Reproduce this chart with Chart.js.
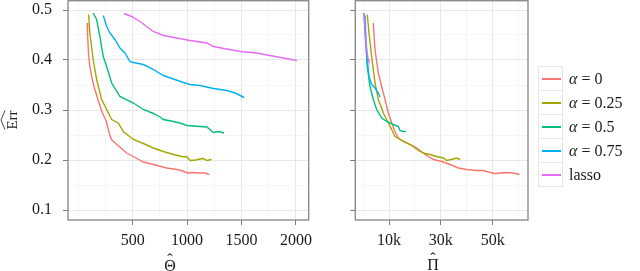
<!DOCTYPE html>
<html>
<head>
<meta charset="utf-8">
<script src="https://cdn.jsdelivr.net/npm/chart.js"></script>
<style>
  body { margin: 0; background: #fff; }
  #wrap { position: relative; width: 640px; height: 271px; overflow: hidden; background: #fff;
          font-family: "Liberation Serif", serif; color: #1a1a1a; }
  canvas { position: absolute; top: 0; }
  .xt { position: absolute; width: 40px; text-align: center; font-size: 16px; line-height: 16px; }
  .xt .hat { position: absolute; left: 0; width: 40px; top: -6px; text-align: center; }
  .key { position: absolute; left: 538px; width: 25px; height: 25px; box-sizing: border-box;
         border: 1px solid #e6e6e6; background: #fff; }
  .key span { position: absolute; left: 3px; top: 11px; width: 19px; height: 1.5px; }
  .lab { position: absolute; left: 569px; font-size: 16px; line-height: 24px; white-space: nowrap; }
  .lab b { font-weight: normal; margin: 0 4px; }
</style>
</head>
<body>
<div id="wrap">
  <canvas id="left" width="320" height="271" style="left:0"></canvas>
  <canvas id="right" width="320" height="271" style="left:320px"></canvas>
  <div class="xt" style="left:150px;top:258px">Θ<span class="hat">ˆ</span></div>
  <div class="xt" style="left:413px;top:257px">Π<span class="hat">ˆ</span></div>
  <div id="legend"></div>
</div>
<script>
// series names and colours (ggplot default hues)
const seriesNames = ['<i>α</i><b>=</b>0', '<i>α</i><b>=</b>0.25', '<i>α</i><b>=</b>0.5', '<i>α</i><b>=</b>0.75', 'lasso'];
const seriesColors = ['#F8766D', '#A3A500', '#00BF7D', '#00B0F6', '#E76BF3'];

// left panel: Err vs Theta-hat
const thetaA0 = [82, 86, 95, 107, 125, 145, 185, 220, 255, 290, 305, 355, 445, 506, 598, 690, 813, 905, 960, 1006, 1060, 1119, 1160, 1205];
const errThetaA0 = [0.474, 0.45, 0.41, 0.387, 0.365, 0.347, 0.318, 0.295, 0.279, 0.25, 0.241, 0.231, 0.214, 0.207, 0.196, 0.191, 0.184, 0.181, 0.178, 0.174, 0.175, 0.174, 0.174, 0.171];
const thetaA25 = [95, 107, 137, 169, 215, 261, 307, 368, 414, 506, 598, 690, 782, 874, 951, 1000, 1027, 1080, 1119, 1150, 1181, 1224];
const errThetaA25 = [0.491, 0.454, 0.401, 0.361, 0.321, 0.301, 0.281, 0.274, 0.257, 0.241, 0.233, 0.224, 0.217, 0.211, 0.207, 0.206, 0.199, 0.2, 0.202, 0.203, 0.199, 0.201];
const thetaA5 = [137, 169, 199, 230, 261, 307, 383, 506, 598, 690, 751, 782, 874, 935, 997, 1119, 1181, 1242, 1288, 1340];
const errThetaA5 = [0.494, 0.481, 0.447, 0.407, 0.387, 0.354, 0.327, 0.314, 0.301, 0.293, 0.286, 0.281, 0.277, 0.274, 0.269, 0.267, 0.266, 0.255, 0.257, 0.254];
const thetaA75 = [230, 261, 291, 337, 383, 429, 475, 506, 598, 690, 782, 874, 966, 1027, 1119, 1242, 1365, 1442, 1524];
const errThetaA75 = [0.489, 0.467, 0.454, 0.441, 0.424, 0.414, 0.397, 0.395, 0.391, 0.381, 0.369, 0.362, 0.355, 0.351, 0.349, 0.343, 0.339, 0.334, 0.325];
const thetaLasso = [420, 491, 567, 690, 782, 905, 1027, 1181, 1242, 1365, 1488, 1641, 1733, 1886, 2009];
const errThetaLasso = [0.493, 0.487, 0.477, 0.457, 0.449, 0.444, 0.439, 0.434, 0.427, 0.422, 0.417, 0.414, 0.41, 0.404, 0.399];

// right panel: Err vs Pi-hat
const piA0 = [3940, 4600, 5870, 7180, 8460, 9730, 11040, 12300, 13590, 15520, 18120, 20700, 23900, 27140, 30370, 33550, 36760, 39990, 43860, 46450, 49000, 50930, 52860, 55440, 58000, 60330];
const errPiA0 = [0.474, 0.421, 0.374, 0.347, 0.321, 0.294, 0.274, 0.257, 0.244, 0.237, 0.231, 0.224, 0.211, 0.201, 0.197, 0.191, 0.184, 0.181, 0.179, 0.179, 0.175, 0.173, 0.174, 0.175, 0.174, 0.171];
const piA25 = [1620, 2280, 3320, 4600, 5870, 7800, 9730, 11040, 12300, 14250, 18120, 21970, 23900, 25830, 28420, 30970, 32280, 34830, 35870, 37410];
const errPiA25 = [0.491, 0.454, 0.407, 0.354, 0.321, 0.294, 0.274, 0.261, 0.247, 0.241, 0.231, 0.217, 0.213, 0.211, 0.207, 0.204, 0.199, 0.202, 0.204, 0.201];
const piA5 = [400, 1000, 1620, 2660, 3940, 5250, 7180, 9110, 11660, 13590, 14250, 15520, 16560];
const errPiA5 = [0.494, 0.434, 0.387, 0.347, 0.321, 0.301, 0.284, 0.277, 0.271, 0.267, 0.259, 0.257, 0.257];
const piA75 = [734, 1120, 1620, 2280, 3320, 4600, 5870, 6530];
const errPiA75 = [0.489, 0.441, 0.401, 0.367, 0.351, 0.344, 0.334, 0.326];
const piLasso = [351, 734, 1390, 2000, 2280];
const errPiLasso = [0.494, 0.454, 0.421, 0.401, 0.397];

// ticks (majors get labels, the rest are minor grid lines)
const yTicks = [0.1, 0.15, 0.2, 0.25, 0.3, 0.35, 0.4, 0.45, 0.5];
const yMajor = [0.1, 0.2, 0.3, 0.4, 0.5];
const thetaTicks = [0, 250, 500, 750, 1000, 1250, 1500, 1750, 2000];
const thetaMajor = [500, 1000, 1500, 2000];
const piTicks = [0, 10000, 20000, 30000, 40000, 50000, 60000];
const piMajor = [10000, 30000, 50000];

Chart.defaults.font.family = '"Liberation Serif", serif';
Chart.defaults.font.size = 16;
Chart.defaults.color = '#1a1a1a';

const isIn = (list, v) => list.some(m => Math.abs(m - v) < 1e-9);

const panelBorder = {
  id: 'panelBorder',
  afterDraw(chart) {
    const a = chart.chartArea, ctx = chart.ctx;
    ctx.save();
    ctx.strokeStyle = '#8c8c8c';
    ctx.lineWidth = 1.4;
    ctx.strokeRect(a.left, a.top + 0.7, a.right - a.left, a.bottom - a.top - 0.7);
    ctx.restore();
  }
};

const yTitle = {
  id: 'yTitle',
  afterDraw(chart) {
    const ctx = chart.ctx;
    ctx.save();
    ctx.translate(16.5, 120);
    ctx.rotate(-Math.PI / 2);
    ctx.font = '15px "Liberation Serif", serif';
    ctx.fillStyle = '#1a1a1a';
    ctx.textAlign = 'center';
    ctx.fillText('Err', 0, 0);
    const w = ctx.measureText('Err').width;
    ctx.beginPath();
    ctx.moveTo(-w / 2, -11.5);
    ctx.lineTo(0, -15.5);
    ctx.lineTo(w / 2, -11.5);
    ctx.strokeStyle = '#1a1a1a';
    ctx.lineWidth = 0.8;
    ctx.stroke();
    ctx.restore();
  }
};

function makePanel(id, xs, ys, xMin, xMax, xTicks, xMajor, fmt, showY, yWidth, padRight, plugins) {
  const datasets = xs.map((arr, i) => ({
    label: seriesNames[i],
    data: arr.map((x, j) => ({ x: x, y: ys[i][j] })),
    borderColor: seriesColors[i],
    borderWidth: 1.4,
    pointRadius: 0,
    tension: 0,
    order: xs.length - 1 - i
  }));
  return new Chart(document.getElementById(id), {
    type: 'line',
    data: { datasets: datasets },
    options: {
      responsive: false,
      animation: false,
      devicePixelRatio: 1,
      layout: { padding: { top: 0, right: padRight, left: 0, bottom: 0 } },
      plugins: { legend: { display: false }, tooltip: { enabled: false } },
      scales: {
        x: {
          type: 'linear', min: xMin, max: xMax,
          afterBuildTicks: s => { s.ticks = xTicks.map(v => ({ value: v })); },
          afterFit: s => { s.height = 51; s.paddingLeft = 0; s.paddingRight = 0; },
          border: { display: false },
          grid: {
            color: c => isIn(xMajor, c.tick.value) ? '#e8e8e8' : '#f5f5f5',
            tickColor: c => isIn(xMajor, c.tick.value) ? '#7a7a7a' : 'rgba(0,0,0,0)',
            tickLength: 5, lineWidth: 1
          },
          ticks: { autoSkip: false, maxRotation: 0, padding: 6,
                   callback: v => isIn(xMajor, v) ? fmt(v) : '' }
        },
        y: {
          type: 'linear', min: 0.08, max: 0.52,
          afterBuildTicks: s => { s.ticks = yTicks.map(v => ({ value: v })); },
          afterFit: s => { s.width = yWidth; s.paddingTop = 0; s.paddingBottom = 0; },
          border: { display: false },
          grid: {
            color: c => isIn(yMajor, c.tick.value) ? '#e8e8e8' : '#f5f5f5',
            tickColor: c => isIn(yMajor, c.tick.value) ? '#7a7a7a' : 'rgba(0,0,0,0)',
            tickLength: 5, lineWidth: 1
          },
          ticks: { autoSkip: false, padding: 11,
                   callback: v => (showY && isIn(yMajor, v)) ? v.toFixed(1) : '' }
        }
      }
    },
    plugins: plugins
  });
}

makePanel('left',
  [thetaA0, thetaA25, thetaA5, thetaA75, thetaLasso],
  [errThetaA0, errThetaA25, errThetaA5, errThetaA75, errThetaLasso],
  -94, 2117, thetaTicks, thetaMajor, v => String(v), true, 68, 11.3, [panelBorder, yTitle]);

makePanel('right',
  [piA0, piA25, piA5, piA75, piLasso],
  [errPiA0, errPiA25, errPiA5, errPiA75, errPiLasso],
  -3000, 63600, piTicks, piMajor, v => (v / 1000) + 'k', false, 35.3, 112, [panelBorder]);

// legend
const legend = document.getElementById('legend');
seriesNames.forEach((name, i) => {
  const top = 66 + i * 24;
  legend.insertAdjacentHTML('beforeend',
    '<div class="key" style="top:' + top + 'px"><span style="background:' + seriesColors[i] + '"></span></div>' +
    '<div class="lab" style="top:' + (top + 0.5) + 'px">' + name + '</div>');
});
</script>
</body>
</html>
